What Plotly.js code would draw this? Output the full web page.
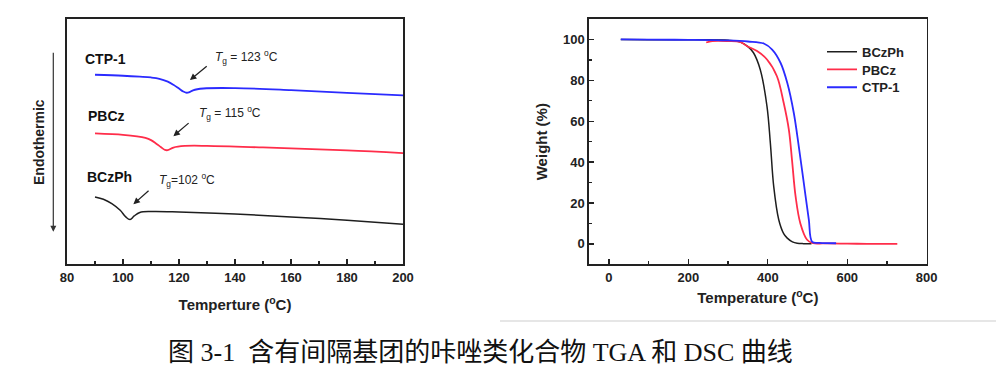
<!DOCTYPE html>
<html>
<head>
<meta charset="utf-8">
<script src="https://cdn.plot.ly/plotly-3.0.1.min.js"></script>
<style>html,body{margin:0;padding:0;background:#fff;}#chart{width:996px;height:380px;}</style>
</head>
<body>
<div id="chart"></div>
<script>
// ---- DSC data (arbitrary heat-flow units, offset per sample) ----
const dscT_ctp = [90,100,106,110,113,116,118,120,121.5,122.5,123.5,125,128.7,140,160,180,200];
const dscY_ctp = [189.3,188.3,187.4,186.6,185.3,182.4,179.3,175.5,172.6,171.4,171.6,173.8,175.6,176,174,171.3,168.7];
const dscT_pbcz = [90,100,105,108,110,112,113.5,115,116,118,122,130,150,180,200];
const dscY_pbcz = [130.7,129.3,127.8,126.2,124,120.2,117.2,114.2,114,116.6,118.2,118.3,116.7,113.7,111];
const dscT_bczph = [90,93,96,99,101,102.5,104,106,110,120,140,160,180,200];
const dscY_bczph = [67.3,65,60.7,54,47.3,44.7,48.3,51.7,52.7,52.3,50.3,47.3,44,40];

// ---- TGA data ----
const tgaT_bczph = [30,100,200,300,331,350,364,381,398,406.5,415,427.6,440,449,462,474,490,510];
const tgaW_bczph = [100,99.9,99.8,99.6,98.7,96.5,93.5,85.3,67.3,49.3,28,11.8,5,2.8,1,0.3,0.1,0.1];
const tgaT_pbcz = [245,260,300,330,348,373,398,423,440,453,461,470,482,499,511,550,600,650,700,726];
const tgaW_pbcz = [98.5,99.2,99.2,98.8,96.7,94.3,90.2,82,69,55.9,41,23.2,10,2,0.5,0.2,0.1,0,0,0];
const tgaT_ctp = [30,100,200,300,350,390,411,432,449,465.5,478,490.7,503.3,511.8,530,572];
const tgaW_ctp = [100,99.9,99.8,99.5,99,98,95,88.6,78.8,64,47.7,29.7,11.8,1,0.5,0.3];

// ---- tick labels ----
const dscXTicks = [80,100,120,140,160,180,200];
const tgaXTicks = [0,200,400,600,800];
const tgaYTicks = [0,20,40,60,80,100];

const dscNames = ['CTP-1','PBCz','BCzPh'];
const tgLabels = ['<i>T</i><sub>g</sub> = 123 <sup>o</sup>C','<i>T</i><sub>g</sub> = 115 <sup>o</sup>C','<i>T</i><sub>g</sub>=102 <sup>o</sup>C'];
const caption = '图 3-1  含有间隔基团的咔唑类化合物 TGA 和 DSC 曲线';

const BLUE = '#2b2bff', RED = '#ff2d4a', BLACK = '#1e1e1e';
const SANS = 'Liberation Sans, Arial, sans-serif';
const bold = a => a.map(v => '<b>' + v + '</b>');

const traces = [
  {x: dscT_ctp, y: dscY_ctp, xaxis:'x', yaxis:'y', mode:'lines', line:{color:BLUE,width:1.8,shape:'spline'}, showlegend:false},
  {x: dscT_pbcz, y: dscY_pbcz, xaxis:'x', yaxis:'y', mode:'lines', line:{color:RED,width:1.8,shape:'spline'}, showlegend:false},
  {x: dscT_bczph, y: dscY_bczph, xaxis:'x', yaxis:'y', mode:'lines', line:{color:BLACK,width:1.5,shape:'spline'}, showlegend:false},
  {x: tgaT_bczph, y: tgaW_bczph, xaxis:'x2', yaxis:'y2', mode:'lines', name:'BCzPh', legend:'legend', line:{color:BLACK,width:1.5,shape:'spline'}},
  {x: tgaT_pbcz, y: tgaW_pbcz, xaxis:'x2', yaxis:'y2', mode:'lines', name:'PBCz', legend:'legend2', line:{color:RED,width:1.8,shape:'spline'}},
  {x: tgaT_ctp, y: tgaW_ctp, xaxis:'x2', yaxis:'y2', mode:'lines', name:'CTP-1', legend:'legend3', line:{color:BLUE,width:1.8,shape:'spline'}}
];

const tickFont = {family:SANS, size:13, color:'#222'};
const titleFont = {family:SANS, size:15, color:'#222', weight:700};
const ydom = [1-264.3/380, 1-19/380];

const annotations = [];
const nameX = [85.6, 86.8, 86.4];
const nameY = [205, 148.3, 87.3];
dscNames.forEach((n,i)=>annotations.push({xref:'x',yref:'y',x:nameX[i],y:nameY[i],text:'<b>'+n+'</b>',showarrow:false,xanchor:'left',yanchor:'middle',font:{family:SANS,size:14,color:'#111'}}));
const headX = [123.9,118,103.7], headY = [184,128,60];
const tailAX = [18.3,16.7,16.7], tailAY = [-15,-14.3,-14.7];
headX.forEach((hx,i)=>annotations.push({xref:'x',yref:'y',x:hx,y:headY[i],ax:tailAX[i],ay:tailAY[i],text:' ',font:{size:1},showarrow:true,arrowhead:2,arrowsize:1,arrowwidth:1.3,arrowcolor:'#222',standoff:0}));
const tgX = [132.2,126.3,112], tgY = [206.7,150.7,84];
tgLabels.forEach((t,i)=>annotations.push({xref:'x',yref:'y',x:tgX[i],y:tgY[i],text:t,showarrow:false,xanchor:'left',yanchor:'middle',font:{family:SANS,size:12,color:'#222'}}));
annotations.push({xref:'paper',yref:'paper',x:38.3/996,y:1-141.7/380,text:'<b>Endothermic</b>',textangle:-90,showarrow:false,xanchor:'center',yanchor:'middle',font:{family:SANS,size:14,color:'#222'}});
annotations.push({xref:'paper',yref:'paper',x:53.3/996,y:1-231.7/380,ax:0,ay:-181,text:' ',font:{size:1},showarrow:true,arrowhead:2,arrowsize:1,arrowwidth:1.2,arrowcolor:'#333',standoff:0});
annotations.push({xref:'paper',yref:'paper',x:480/996,y:1-352/380,text:caption,showarrow:false,xanchor:'center',yanchor:'middle',font:{family:'Liberation Serif, Noto Sans CJK SC, serif',size:26,color:'#111'}});

const legFont = {family:SANS,size:13,color:'#222',weight:700};
const legBase = {xanchor:'left',yanchor:'middle',bgcolor:'rgba(0,0,0,0)',font:legFont};
const legX = 822/996;

const layout = {
  width:996, height:380,
  margin:{l:0,r:0,t:0,b:0},
  paper_bgcolor:'#fff', plot_bgcolor:'#fff',
  showlegend:true,
  legend: Object.assign({x:legX,y:1-51.7/380},legBase),
  legend2: Object.assign({x:legX,y:1-69.5/380},legBase),
  legend3: Object.assign({x:legX,y:1-87.3/380},legBase),
  xaxis:{domain:[67/996,403/996],anchor:'y',range:[80,200],tickmode:'array',tickvals:dscXTicks,ticktext:bold(dscXTicks),ticks:'inside',ticklen:5,tickwidth:1.3,tickcolor:'#222',
    minor:{dtick:10,tick0:80,ticks:'inside',ticklen:3,tickcolor:'#222'},
    showline:true,mirror:true,linecolor:'#222',linewidth:1.6,showgrid:false,zeroline:false,tickfont:tickFont,
    title:{text:'Temperture (<sup>o</sup>C)',font:titleFont,standoff:16}},
  yaxis:{domain:ydom,anchor:'x',range:[0,245],showticklabels:false,ticks:'',showline:true,mirror:true,linecolor:'#222',linewidth:1.6,showgrid:false,zeroline:false},
  xaxis2:{domain:[589/996,926.7/996],anchor:'y2',range:[-50,800],tickmode:'array',tickvals:tgaXTicks,ticktext:bold(tgaXTicks),ticks:'inside',ticklen:5,tickwidth:1.3,tickcolor:'#222',
    minor:{dtick:100,tick0:0,ticks:'inside',ticklen:3,tickcolor:'#222'},
    showline:true,mirror:true,linecolor:'#222',linewidth:1.6,showgrid:false,zeroline:false,tickfont:tickFont,
    title:{text:'Temperature (<sup>o</sup>C)',font:titleFont,standoff:9}},
  yaxis2:{domain:ydom,anchor:'x2',range:[-10,110],tickmode:'array',tickvals:tgaYTicks,ticktext:bold(tgaYTicks),ticks:'inside',ticklen:5,tickwidth:1.3,tickcolor:'#222',
    minor:{dtick:10,tick0:0,ticks:'inside',ticklen:3,tickcolor:'#222'},
    showline:true,mirror:true,linecolor:'#222',linewidth:1.6,showgrid:false,zeroline:false,tickfont:tickFont,
    title:{text:'Weight (%)',font:titleFont,standoff:12}},
  shapes:[{type:'line',xref:'paper',yref:'paper',x0:500/996,x1:1,y0:1-321/380,y1:1-321/380,line:{color:'#dedede',width:1.5}}],
  annotations:annotations
};

Plotly.newPlot('chart', traces, layout, {displayModeBar:false, staticPlot:true});
</script>
</body>
</html>
